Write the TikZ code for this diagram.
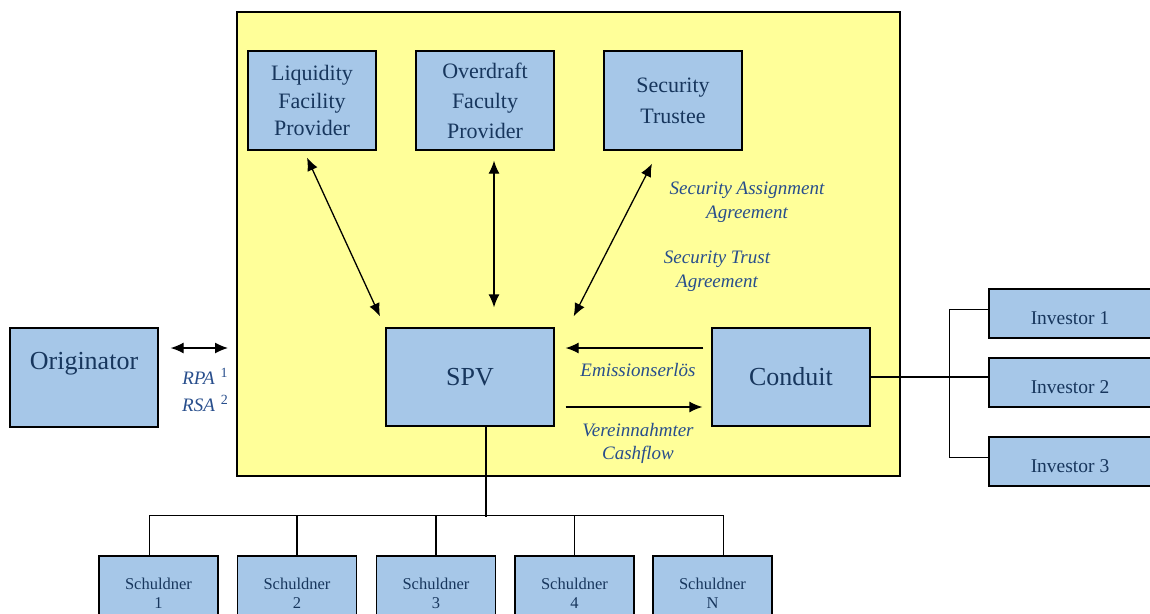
\documentclass[tikz,border=0pt]{standalone}
\usepackage{fontspec}
\setmainfont{Liberation Serif}[Ligatures=TeX]
\usetikzlibrary{arrows.meta}
\definecolor{boxblue}{RGB}{166,199,232}
\definecolor{spvyellow}{RGB}{255,255,153}
\definecolor{textblue}{RGB}{23,54,93}
\definecolor{labelblue}{RGB}{40,78,140}
\newcommand{\footmark}[1]{\hspace{6pt}\raisebox{7pt}{\upshape\fontsize{14}{14}\selectfont #1}}
\tikzset{
  party/.style={draw,fill=boxblue,text=textblue,align=center,line width=1.3pt,inner sep=0pt,
    font=\rmfamily\fontsize{22}{27.5}\selectfont},
  big/.style={font=\rmfamily\fontsize{26}{30}\selectfont},
  investor/.style={font=\rmfamily\fontsize{19.5}{23}\selectfont,minimum width=162pt,minimum height=49pt,
    text height=22pt,text depth=0pt},
  deal/.style={text=labelblue,align=center,font=\rmfamily\fontsize{19}{23.5}\selectfont\itshape},
  link/.style={line width=1.1pt},
  flow/.style={line width=1.3pt},
  >={Latex[length=13pt,width=11pt]}
}

\begin{document}
\begin{tikzpicture}[x=1pt,y=-1pt]
  \useasboundingbox (0,0) rectangle (1150,613);
  % SPV frame
  \node[draw,fill=spvyellow,line width=1.1pt,minimum width=663pt,minimum height=464pt] (F) at (568.5,244) {};
  % parties inside the frame
  \node[party,minimum width=128pt,minimum height=99pt] (LFP)  at (312,100.5) {Liquidity\\Facility\\Provider};
  \node[party,minimum width=138pt,minimum height=99pt,font=\rmfamily\fontsize{22}{30}\selectfont]
                                                       (OFP)  at (485,100.5) {Overdraft\\Faculty\\Provider};
  \node[party,minimum width=138pt,minimum height=99pt,font=\rmfamily\fontsize{22}{31}\selectfont]
                                                       (ST)   at (673,100.5) {Security\\Trustee};
  \node[party,big,minimum width=168pt,minimum height=98pt] (SPV)  at (470,377) {SPV};
  \node[party,big,minimum width=158pt,minimum height=98pt] (CON)  at (791,377) {Conduit};
  % Originator, left-hand side
  \node[party,big,minimum width=148pt,minimum height=99pt,text height=18pt,text depth=35pt]
                                                       (ORIG) at (84,377.5) {Originator};
  \coordinate (RPAend) at (228,348);
  % investors, right-hand side
  \node[party,investor] (INV1) at (1070,313.5) {Investor 1};
  \node[party,investor] (INV2) at (1070,382.5) {Investor 2};
  \node[party,investor] (INV3) at (1070,461.5) {Investor 3};
  % debtors, bottom
  \foreach \i/\x/\t in {1/158.5/1,2/297/2,3/436/3,4/574.5/4,5/712.5/N}
    \node[party,font=\rmfamily\fontsize{16.5}{19}\selectfont,minimum width=119pt,minimum height=74pt] (S\i) at (\x,593) {Schuldner\\\t};
  % agreements and flows
  \node[deal] (RPA) at (205,390)   {RPA\footmark{1}\\[3.5pt]RSA\footmark{2}};
  \node[deal] (EMI) at (638,370)   {Emissionserlös};
  \node[deal] (VER) at (638,443.5) {Vereinnahmter\\Cashflow};
  \node[deal] (SAA) at (747,202)   {Security Assignment\\Agreement};
  \node[deal] (STA) at (717,271)   {Security Trust\\Agreement};
  \draw[flow,<->] ([shift={(12,-29.5)}]ORIG.east) -- (RPAend);
  \draw[flow,<->] ([shift={(-5,7)}]LFP.south) -- ([shift={(-90,-11)}]SPV.north);
  \draw[flow,<->] ([shift={(9,10)}]OFP.south) -- ([shift={(24,-20)}]SPV.north);
  \draw[flow,<->] ([shift={(-21,13)}]ST.south) -- ([shift={(19,-11)}]SPV.north east);
  \draw[flow,->]  ([shift={(-8,-29)}]CON.west) -- ([shift={(11,-29)}]SPV.east);
  \draw[flow,->]  ([shift={(11,30)}]SPV.east) -- ([shift={(-9,30)}]CON.west);
  % trees
  \draw[link] ([xshift=16pt]SPV.south) -- ++(0,90);
  \draw[link] ([xshift=-9pt]S1.north) -- ++(0,-40) -| ([xshift=11pt]S5.north);
  \foreach \s in {S2,S3,S4}
    \draw[link] (\s.north) -- ++(0,-40);
  \draw[link] (CON.east) -- (CON.east -| INV2.west);
  \draw[link] ([yshift=4pt]INV1.west) -- ++(-39,0) |- ([yshift=4pt]INV3.west);
\end{tikzpicture}
\end{document}
